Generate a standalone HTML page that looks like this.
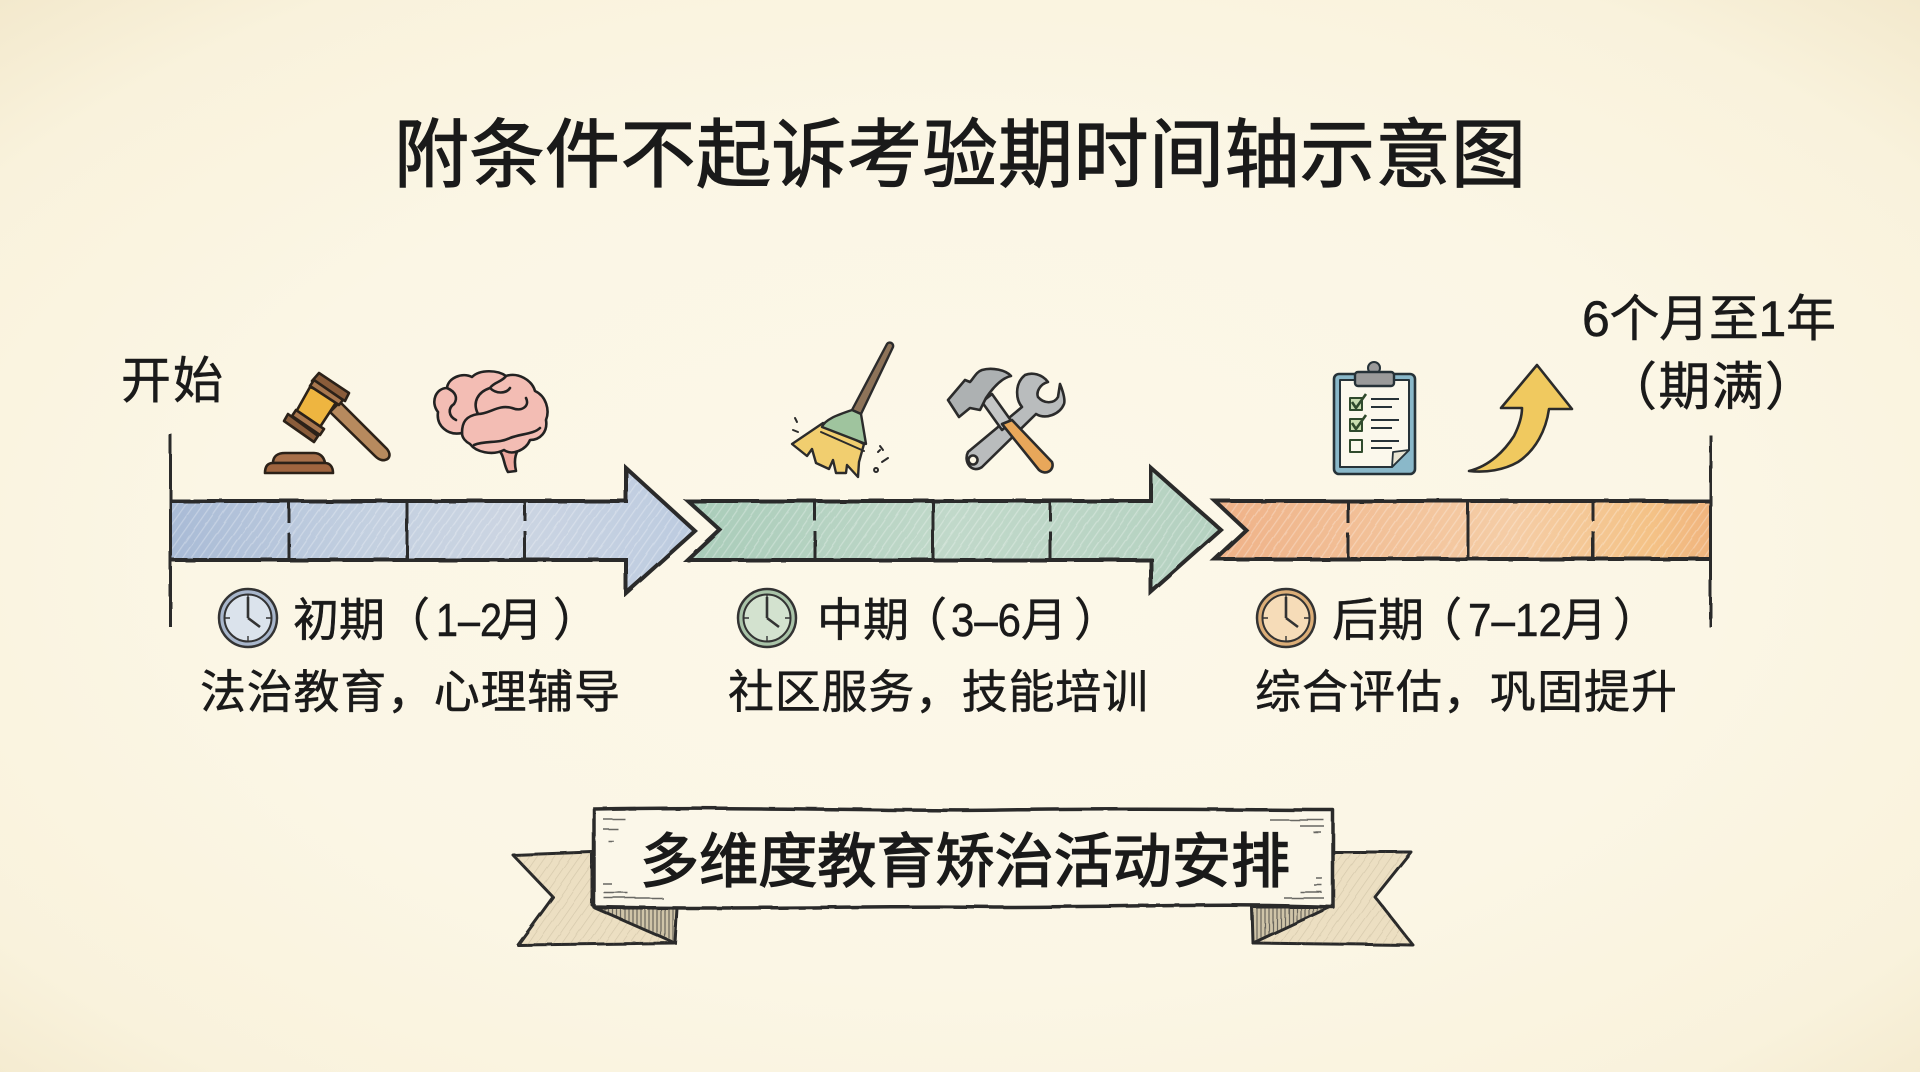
<!DOCTYPE html>
<html lang="zh-CN"><head><meta charset="utf-8"><title>附条件不起诉考验期时间轴示意图</title>
<style>
html,body{margin:0;padding:0;width:1920px;height:1072px;overflow:hidden;background:#fbf6e5}
svg{display:block}
text{font-family:"Liberation Sans","Noto Sans CJK SC",sans-serif;fill:#1a1a1a;stroke:#1a1a1a;stroke-width:.5px}
</style></head><body>
<svg xmlns="http://www.w3.org/2000/svg" width="1920" height="1072" viewBox="0 0 1920 1072">
<defs>
<radialGradient id="bg" cx="50%" cy="52%" r="72%">
<stop offset="0" stop-color="#fcf8e9"/><stop offset=".55" stop-color="#fbf6e5"/><stop offset=".85" stop-color="#f9f2dc"/><stop offset="1" stop-color="#f3e9cd"/>
</radialGradient>
<pattern id="h" width="7" height="7" patternUnits="userSpaceOnUse" patternTransform="rotate(35)">
<line x1="0" y1="0" x2="0" y2="7" stroke="#fff" stroke-opacity=".28" stroke-width="2.5"/>
</pattern>
<pattern id="hd" width="7" height="7" patternUnits="userSpaceOnUse" patternTransform="rotate(35)">
<line x1="0" y1="0" x2="0" y2="7" stroke="#8f8468" stroke-opacity=".25" stroke-width="1.4"/>
</pattern>
<pattern id="vh" width="4" height="6" patternUnits="userSpaceOnUse">
<line x1="1" y1="0" x2="1" y2="6" stroke="#333" stroke-opacity=".65" stroke-width="1.2"/>
</pattern>
<linearGradient id="gb" x1="0" x2="1"><stop offset="0" stop-color="#a9bbd6"/><stop offset=".35" stop-color="#c2cfe0"/><stop offset=".65" stop-color="#ccd5e2"/><stop offset="1" stop-color="#bccbe0"/></linearGradient>
<linearGradient id="gg" x1="0" x2="1"><stop offset="0" stop-color="#a9ccb9"/><stop offset=".5" stop-color="#c1d9ca"/><stop offset="1" stop-color="#b4d1c0"/></linearGradient>
<linearGradient id="go" x1="0" x2="1"><stop offset="0" stop-color="#efb288"/><stop offset=".6" stop-color="#f5cda6"/><stop offset=".88" stop-color="#f4c286"/><stop offset="1" stop-color="#f0b47e"/></linearGradient>
<filter id="r" x="-3%" y="-3%" width="106%" height="106%"><feTurbulence type="fractalNoise" baseFrequency="0.035" numOctaves="2" seed="4"/><feDisplacementMap in="SourceGraphic" scale="2.5"/></filter>
</defs>
<rect width="1920" height="1072" fill="url(#bg)"/>

<!-- Title -->
<text x="394" y="181" font-size="75" textLength="1132" lengthAdjust="spacing" style="stroke-width:1.2px">附条件不起诉考验期时间轴示意图</text>

<!-- end labels -->
<text x="121" y="398" font-size="50" textLength="102">开始</text>
<text x="1582" y="336" font-size="50" textLength="254">6个月至1年</text>
<text x="1605" y="405" font-size="52" textLength="212">（期满）</text>

<!-- bars -->
<g filter="url(#r)" stroke-linejoin="miter">
<path d="M171 501H626V468L695 531L626 593V560H171Z" fill="url(#gb)"/>
<path d="M171 501H626V468L695 531L626 593V560H171Z" fill="url(#h)"/>
<path d="M688 501H1151V468L1221 530L1151 592V560H688L720 530Z" fill="url(#gg)"/>
<path d="M688 501H1151V468L1221 530L1151 592V560H688L720 530Z" fill="url(#h)"/>
<path d="M1215 501H1711V559H1215L1246 530Z" fill="url(#go)"/>
<path d="M1215 501H1711V559H1215L1246 530Z" fill="url(#h)"/>
<g fill="none" stroke="#2a2a2a" stroke-width="4">
<path d="M171 501H626V468L695 531L626 593V560H171"/>
<path d="M688 501H1151V468L1221 530L1151 592V560H688L720 530Z"/>
<path d="M1711 501H1215L1246 530L1215 559H1711"/>
</g>
<g fill="none" stroke="#2a2a2a" stroke-width="3">
<path d="M289 501V523M289 533V560M407 501V560M525 501V521M525 531V560"/>
<path d="M815 501V521M815 531V560M933 501V560M1050 501V521M1050 531V560"/>
<path d="M1348 501V523M1348 533V560M1468 501V560M1593 501V521M1593 531V560"/>
</g>
<path d="M170.5 434V627M1710.5 435V627" stroke="#2a2a2a" stroke-width="3" fill="none"/>
</g>

<!-- clocks -->
<g stroke="#333" fill="none">
<circle cx="248" cy="618" r="29" fill="#a8b6cb" stroke-width="2.5"/><circle cx="248" cy="618" r="23.5" fill="#dbe3ec" stroke-width="2"/>
<path d="M248 618V597M248 618L260 627" stroke-width="2.6"/><path d="M248 595v5M248 636v5M225 618h5M266 618h5" stroke-width="1.4"/>
</g>
<g stroke="#333" fill="none">
<circle cx="767" cy="618" r="29" fill="#a9c3a8" stroke-width="2.5"/><circle cx="767" cy="618" r="23.5" fill="#d3e2cf" stroke-width="2"/>
<path d="M767 618V597M767 618L779 627" stroke-width="2.6"/><path d="M767 595v5M767 636v5M744 618h5M785 618h5" stroke-width="1.4"/>
</g>
<g stroke="#333" fill="none">
<circle cx="1286" cy="618" r="29" fill="#dcae78" stroke-width="2.5"/><circle cx="1286" cy="618" r="23.5" fill="#f6dcb8" stroke-width="2"/>
<path d="M1286 618V597M1286 618L1298 627" stroke-width="2.6"/><path d="M1286 595v5M1286 636v5M1263 618h5M1304 618h5" stroke-width="1.4"/>
</g>

<!-- labels -->
<g font-size="46">
<text x="293" y="636" textLength="92">初期</text><text x="384" y="636">（</text><text x="436" y="636" textLength="66" lengthAdjust="spacingAndGlyphs">1–2</text><text x="497" y="636">月</text><text x="553" y="636">）</text>
<text x="817" y="636" textLength="92">中期</text><text x="901" y="636">（</text><text x="951" y="636" textLength="70" lengthAdjust="spacingAndGlyphs">3–6</text><text x="1021" y="636">月</text><text x="1074" y="636">）</text>
<text x="1332" y="636" textLength="92">后期</text><text x="1416" y="636">（</text><text x="1468" y="636" textLength="94" lengthAdjust="spacingAndGlyphs">7–12</text><text x="1561" y="636">月</text><text x="1613" y="636">）</text>
<text x="200" y="708" textLength="420">法治教育，心理辅导</text>
<text x="728" y="708" textLength="420">社区服务，技能培训</text>
<text x="1255" y="708" textLength="422">综合评估，巩固提升</text>
</g>

<!-- gavel -->
<g stroke="#2b2118" stroke-width="2.6" stroke-linejoin="round" stroke-linecap="round">
<path d="M273 463C273 456 278 453 285 453H314C320 453 324 457 325 463Z" fill="#a8704a"/>
<path d="M265 473C265 466 268 463 273 463H325C330 463 333 467 333 473Z" fill="#a0653f"/>
<path d="M330 412L340 402L387 449C391 454 390 459 385 460C381 461 378 459 375 456Z" fill="#b78a5e"/>
<path d="M310 387L339 398L320 427L296 412Z" fill="#eeb540"/>
<path d="M319 373L349 393L345 401L312 381Z" fill="#8a5c3a"/>
<path d="M314 380L343 400L339 405L310 386Z" fill="#a9774e"/>
<path d="M296 410L324 429L320 435L292 416Z" fill="#a9774e"/>
<path d="M288 414L318 436L314 442L284 421Z" fill="#8a5c3a"/>
</g>

<!-- brain -->
<g stroke="#222" stroke-width="2.6" stroke-linejoin="round" stroke-linecap="round" fill="none">
<path d="M497 448C505 455 503 464 508 472L516 471C514 462 515 455 518 450Z" fill="#eda99f"/>
<path d="M462 433C448 436 436 426 438 412C430 402 436 388 447 388C448 378 462 372 472 377C480 369 498 370 506 376C518 372 532 380 535 391C546 396 550 410 546 420C548 432 540 440 530 440C526 450 512 456 504 450C492 456 476 452 470 444C466 442 462 438 462 433Z" fill="#f3bdb4"/>
<path d="M462 433C462 422 466 416 478 414C490 414 498 404 512 408C522 412 530 406 526 398"/>
<path d="M478 414C472 402 478 392 490 388C496 394 506 394 510 388"/>
<path d="M447 388C456 392 458 398 454 404C448 408 448 416 456 420"/>
<path d="M474 445C486 440 498 444 510 438C520 434 534 434 540 428"/>
<path d="M506 376C502 382 494 382 490 388"/>
</g>

<!-- broom -->
<g stroke="#2b2b2b" stroke-width="2.4" stroke-linejoin="round" stroke-linecap="round">
<path d="M887 344C889 341 894 343 893 347L861 414L852 410Z" fill="#8d7359"/>
<path d="M823 423L792 444L807 456L812 449L816 463L829 469L833 460L836 473L846 473L847 465L858 477L859 462L864 444Z" fill="#f1ce6f"/>
<path d="M852 410L861 414L866 444L822 427C825 419 838 415 852 410Z" fill="#9fc49e"/>
<path d="M821 432L864 451" fill="none" stroke-width="2"/>
<path d="M795 418l2 4M793 430l5 2M882 462l6-4M880 446l3 4M878 452l2-2M876 468a2 2 0 1 0 .1 0" fill="none" stroke-width="2"/>
</g>

<!-- tools -->
<g stroke="#2b2b2b" stroke-width="2.6" stroke-linejoin="round" stroke-linecap="round">
<path d="M1025 375C1014 384 1016 400 1022 407L968 452C963 462 972 474 982 467L1036 414C1046 420 1060 414 1064 404C1066 398 1060 384 1060 384L1058 397C1054 404 1044 404 1038 397C1036 392 1040 384 1048 382C1042 374 1032 372 1025 375Z" fill="#b9bcbd"/>
<circle cx="973" cy="460" r="4.5" fill="#fbf6e5"/>
<path d="M982 402L992 394L1012 422L1002 430Z" fill="#c4c6c6"/>
<path d="M948 400L959 417L970 408L980 410L986 398C994 386 1002 378 1011 376C1006 370 992 367 982 370C976 372 974 378 970 382L965 380Z" fill="#adb1b2"/>
<path d="M1002 424L1012 420L1052 462C1055 470 1046 476 1039 470Z" fill="#e8a75a"/>
</g>

<!-- clipboard -->
<g stroke="#263238" stroke-linejoin="round" fill="none">
<rect x="1334" y="374" width="81" height="100" rx="5" fill="#8ab8c9" stroke-width="2.6"/>
<path d="M1340 380H1409V450L1392 467H1340Z" fill="#fbf8ec" stroke-width="2"/>
<path d="M1392 467L1393 452L1409 450Z" fill="#e8e4d2" stroke-width="1.8"/>
<circle cx="1374" cy="368" r="6" fill="#9a9a9a" stroke-width="2"/>
<rect x="1355" y="372" width="39" height="14" rx="3" fill="#9a9a9a" stroke-width="2.4"/>
<g stroke="#2f4a2c" stroke-width="2">
<rect x="1350" y="398" width="12" height="12" fill="#c8dcb0"/><rect x="1350" y="419" width="12" height="12" fill="#c8dcb0"/><rect x="1350" y="440" width="12" height="12"/>
<path d="M1352 402L1356 408L1366 394M1352 423L1356 429L1366 415" stroke-width="2.6"/>
</g>
<path d="M1371 399H1399M1371 407H1392M1371 420H1399M1371 428H1392M1371 441H1399M1371 448H1392" stroke-width="2"/>
</g>

<!-- yellow arrow -->
<path d="M1537 365L1572 409H1549C1546 430 1536 450 1518 462C1504 470 1486 473 1469 471C1490 466 1505 450 1514 436C1519 426 1522 416 1522 408H1501Z" fill="#f0c95f" stroke="#2b2b2b" stroke-width="2.6" stroke-linejoin="round"/>

<!-- banner -->
<g filter="url(#r)" stroke="#2a2a2a" stroke-linejoin="round">
<path d="M513 855L592 852V905L675 943L518 945L553 897Z" fill="#ecdfc2" stroke-width="3"/>
<path d="M513 855L592 852V905L675 943L518 945L553 897Z" fill="url(#hd)" stroke="none"/>
<path d="M595 908H677L675 943Z" fill="#cfc4a8" stroke-width="3"/>
<path d="M597 908H677L675 941Z" fill="url(#vh)" stroke="none"/>
<path d="M1333 852L1411 852L1375 897L1413 945L1253 943L1333 905Z" fill="#ecdfc2" stroke-width="3"/>
<path d="M1333 852L1411 852L1375 897L1413 945L1253 943L1333 905Z" fill="url(#hd)" stroke="none"/>
<path d="M1252 907H1330L1253 943Z" fill="#cfc4a8" stroke-width="3"/>
<path d="M1252 907H1330L1253 941Z" fill="url(#vh)" stroke="none"/>
<path d="M594 809C760 806 900 812 1000 810C1130 808 1240 810 1333 810V907C1220 903 1130 907 1000 907C880 905 760 910 594 907Z" fill="#fbf7e9" stroke-width="3.5"/>
<path d="M603 819H625M603 829H618M608 841H614M603 884H612M604 893H628M604 898H663M1270 820H1324M1300 826H1324M1313 832H1321M1316 878H1322M1314 885H1322M1300 892H1322M1284 898H1324" fill="none" stroke-width="1.6" stroke-opacity=".7"/>
</g>
<text x="640" y="882" font-size="59" textLength="650" style="stroke-width:1.4px">多维度教育矫治活动安排</text>
</svg>
</body></html>
